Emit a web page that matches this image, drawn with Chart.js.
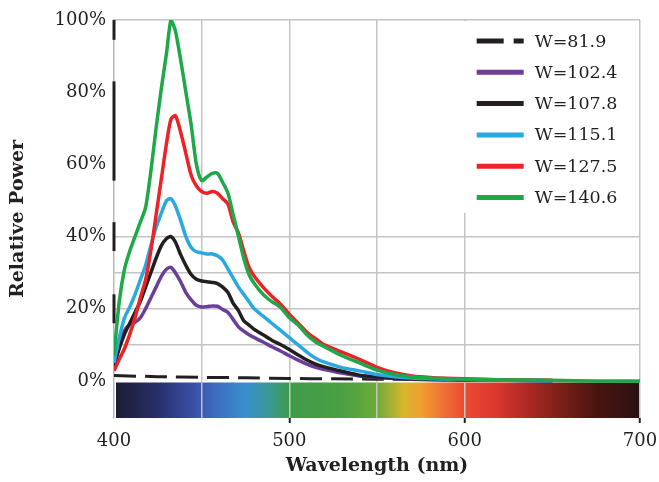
<!DOCTYPE html>
<html>
<head>
<meta charset="utf-8">
<script src="https://cdn.jsdelivr.net/npm/chart.js@4.4.1/dist/chart.umd.min.js"></script>
<style>
  html, body { margin: 0; padding: 0; background: #fff; }
  #box { width: 659px; height: 482px; position: relative; }
</style>
</head>
<body>
<div id="box"><canvas id="powerChart"></canvas></div>
<script>
// wavelength axis (nm)
var wavelengths = [400, 403, 406, 409, 412, 415, 418, 421, 424, 427, 430, 432.5,
  435, 438, 441, 444, 447, 450, 453, 456, 459, 462, 465, 468, 471, 474, 477, 480,
  485, 490, 495, 500, 505, 510, 515, 520, 530, 540, 550, 560, 570, 580,
  600, 625, 650, 675, 700];

// relative power (%) for each W
var w1406 = [7, 22, 31, 36, 40, 44, 48, 58, 70, 81, 91, 100,
  97, 89, 80, 71, 60, 55.5, 56.5, 57.5, 57.5, 55, 52, 46, 40, 34, 29.5, 27,
  24, 22, 20.4, 17.5, 15.5, 12.8, 10.8, 9.5, 7, 5, 3, 1.8, 1.1, 0.8,
  0.5, 0.3, 0.2, 0, 0];
var w1275 = [2.8, 6, 9, 13, 17.5, 23, 28, 36, 46, 56, 66, 72.5,
  73.5, 69, 63, 57, 54, 52.5, 52, 52.5, 52, 50.5, 49, 44, 41, 36, 31.5, 29,
  26, 23.5, 21.3, 18.5, 16, 13.5, 11.7, 10, 8, 6, 3.8, 2.3, 1.4, 1,
  0.6, 0.3, 0.2, null, null];
var w1151 = [5, 12, 17.5, 20.5, 24, 28, 32, 37.5, 42.5, 46.5, 50, 50.5,
  48.5, 44.5, 40, 37, 35.8, 35.5, 35.2, 35.2, 34.7, 33.5, 31, 28.5, 26, 24, 22, 20,
  18, 16, 14, 12, 10, 8, 6.3, 5.2, 3.7, 2.8, 1.8, 1.2, 0.8, 0.6,
  0.4, 0.2, 0.1, null, null];
var w1078 = [4, 9, 13, 16, 19, 22, 26, 30, 34, 37.5, 39.5, 40,
  38.5, 35, 32, 29.5, 28.2, 27.7, 27.5, 27.3, 27, 26, 24.5, 21.5, 19.5, 16.7, 15.5, 14.3,
  12.8, 11.3, 10.1, 8.7, 7.2, 5.8, 4.7, 3.9, 2.7, 1.6, 1.1, 0.8, 0.6, 0.4,
  0.3, 0.2, 0.1, null, null];
var w1024 = [4, 10, 14, 15.7, 16.3, 17.5, 20, 23, 26, 29, 31, 31.5,
  30, 27.5, 24.5, 22.5, 21, 20.5, 20.6, 20.8, 20.7, 19.8, 19, 17, 15, 13.8, 12.8, 12,
  10.8, 9.5, 8.3, 7, 5.8, 4.7, 3.8, 3.2, 2.2, 1.4, 1, 0.7, 0.5, 0.4,
  0.3, 0.2, 0.1, null, null];

// the W=81.9 curve stays close to zero
var dashWavelengths = [400, 425, 450, 475, 500, 525, 550, 575, 600, 625, 650];
var w819 = [1.5, 1.2, 1.0, 0.9, 0.7, 0.6, 0.5, 0.4, 0.3, 0.2, 0.1];

var xTicks = [400, 450, 500, 550, 600, 650, 700];
var yTicks = [0, 10, 20, 30, 40, 50, 60, 70, 80, 90, 100];
var yMin = -10.25;

// spectrum colours along the bottom strip
var spectrumNm = [400, 425, 445, 458, 475, 490, 500, 530, 550, 565, 575, 590, 600, 615, 635, 655, 675, 700];
var spectrumColors = ['#1b1b2e', '#28306c', '#3a4ea6', '#3d6cc0', '#3a8fce', '#3a9a8c', '#3e9a4a', '#4aa043',
  '#6cab3a', '#d8b52a', '#f0a030', '#ee6a35', '#ea4a30', '#e03a30', '#b02a25', '#7a2018', '#4a1410', '#2a1212'];

// dark pieces seen on the left axis
var axisMarks = [[100, 94.5], [83, 55.5], [44, 36], [24, 16]];

function pts(xs, ys) {
  return xs.map(function (x, i) { return {x: x, y: ys[i]}; });
}

var serif = '"DejaVu Serif", serif';

var spectrumStrip = {
  id: 'spectrumStrip',
  beforeDraw: function (chart) {
    var ctx = chart.ctx, xs = chart.scales.x, ys = chart.scales.y;
    var x0 = xs.getPixelForValue(400), x1 = xs.getPixelForValue(700);
    var top = ys.getPixelForValue(0) + 1.5, bottom = ys.getPixelForValue(yMin);
    var g = ctx.createLinearGradient(x0, 0, x1, 0);
    spectrumNm.forEach(function (nm, i) {
      g.addColorStop((nm - 400) / 300, spectrumColors[i]);
    });
    ctx.save();
    ctx.fillStyle = g;
    ctx.fillRect(x0 + 2, top, x1 - x0 - 2, bottom - top);
    ctx.restore();
  },
  afterDraw: function (chart) {
    var ctx = chart.ctx, ys = chart.scales.y, left = chart.chartArea.left;
    ctx.save();
    ctx.strokeStyle = '#231f20';
    ctx.lineWidth = 3;
    axisMarks.forEach(function (m) {
      ctx.beginPath();
      ctx.moveTo(left, ys.getPixelForValue(m[0]));
      ctx.lineTo(left, ys.getPixelForValue(m[1]));
      ctx.stroke();
    });
    ctx.restore();
  }
};

var boxLegend = {
  id: 'boxLegend',
  afterDatasetsDraw: function (chart) {
    var ctx = chart.ctx, area = chart.chartArea;
    var left = chart.scales.x.getPixelForValue(600) - 2;
    var top = area.top + 1;
    ctx.save();
    ctx.fillStyle = '#fff';
    ctx.fillRect(left, top, area.right - 1 - left, 192);
    ctx.font = '17.5px ' + serif;
    ctx.textBaseline = 'middle';
    chart.data.datasets.forEach(function (ds, i) {
      var y = top + 20 + i * 31.3;
      ctx.beginPath();
      ctx.strokeStyle = ds.borderColor;
      ctx.lineWidth = 5;
      ctx.setLineDash(ds.borderDash ? [27, 10] : []);
      ctx.moveTo(left + 14, y);
      ctx.lineTo(left + 61, y);
      ctx.stroke();
      ctx.fillStyle = '#231f20';
      ctx.fillText(ds.label, left + 72, y + 1);
    });
    ctx.restore();
  }
};

function line(label, xs, ys, color, order) {
  return {
    label: label, data: pts(xs, ys), borderColor: color, backgroundColor: color,
    borderWidth: 3.5, pointRadius: 0, tension: 0.25, order: order,
    borderJoinStyle: 'round', spanGaps: false
  };
}

var dashed = line('W=81.9', dashWavelengths, w819, '#231f20', 5);
dashed.borderDash = [22, 9];
dashed.borderWidth = 3;

new Chart(document.getElementById('powerChart'), {
  type: 'line',
  data: {
    datasets: [
      dashed,
      line('W=102.4', wavelengths, w1024, '#6a3f98', 4),
      line('W=107.8', wavelengths, w1078, '#231f20', 3),
      line('W=115.1', wavelengths, w1151, '#2aa8e0', 2),
      line('W=127.5', wavelengths, w1275, '#ec2226', 1),
      line('W=140.6', wavelengths, w1406, '#1ea84a', 0)
    ]
  },
  options: {
    responsive: true,
    maintainAspectRatio: false,
    animation: false,
    devicePixelRatio: 1,
    layout: { padding: { top: 20, right: 19, left: 0, bottom: 0 } },
    plugins: { legend: { display: false }, tooltip: { enabled: false } },
    scales: {
      x: {
        type: 'linear', min: 400, max: 700,
        afterBuildTicks: function (s) { s.ticks = xTicks.map(function (v) { return {value: v}; }); },
        afterFit: function (s) { s.height = 64; s.paddingLeft = 0; s.paddingRight = 0; },
        border: { display: false },
        grid: {
          lineWidth: 1.5,
          color: function (c) { var v = c.tick.value; return (v === 400 || v === 650) ? 'rgba(0,0,0,0)' : '#c4c4c4'; },
          tickLength: 5,
          tickWidth: 2,
          tickColor: function (c) { return c.tick.value % 100 === 0 && c.tick.value > 400 ? '#231f20' : 'rgba(0,0,0,0)'; }
        },
        ticks: {
          autoSkip: false, maxRotation: 0, padding: 8, color: '#231f20',
          font: { family: serif, size: 18 },
          callback: function (v) { return v % 100 === 0 ? v : ''; }
        },
        title: {
          display: true, text: 'Wavelength (nm)', color: '#231f20',
          font: { family: serif, size: 19, weight: 'bold' },
          padding: { top: 0, bottom: 5 }
        }
      },
      y: {
        min: yMin, max: 100,
        afterBuildTicks: function (s) { s.ticks = yTicks.map(function (v) { return {value: v}; }); },
        afterFit: function (s) { s.width = 114; s.paddingTop = 0; s.paddingBottom = 0; },
        border: { display: true, color: '#b8b8b8', width: 1.5 },
        grid: {
          lineWidth: 1.5, drawTicks: false,
          color: function (c) { var v = c.tick.value; return ((v > 0 && v <= 40) || v === 100) ? '#c4c4c4' : 'rgba(0,0,0,0)'; }
        },
        ticks: {
          padding: 8, color: '#231f20',
          font: { family: serif, size: 18 },
          callback: function (v) { return v % 20 === 0 ? v + '%' : ''; }
        },
        title: {
          display: true, text: 'Relative Power', color: '#231f20',
          font: { family: serif, size: 19, weight: 'bold' },
          padding: { top: 7, bottom: 0 }
        }
      }
    }
  },
  plugins: [spectrumStrip, boxLegend]
});
</script>
</body>
</html>
